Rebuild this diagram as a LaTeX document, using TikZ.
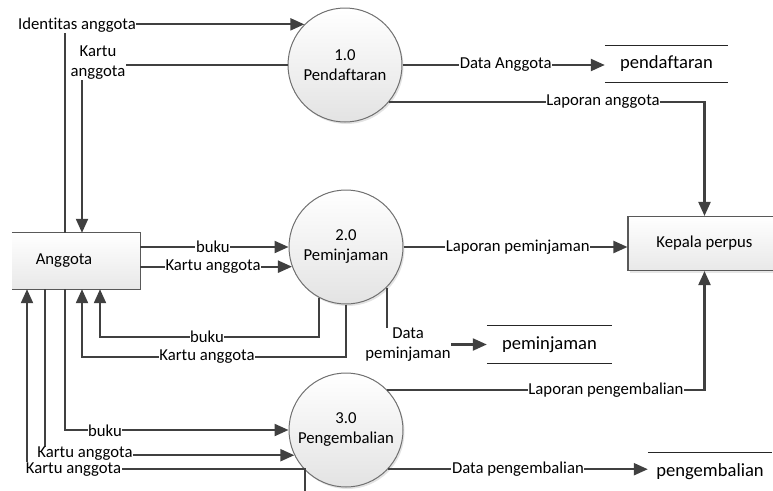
\documentclass[tikz,border=0pt]{standalone}
\usepackage{fontspec}
\setmainfont{Carlito}[Ligatures=NoCommon]
\usetikzlibrary{arrows.meta,shadows}

\definecolor{flowc}{HTML}{404040}
\definecolor{circedge}{HTML}{707070}
\definecolor{boxedge}{HTML}{595959}

\newcommand{\txtfont}{\fontsize{16.7}{20}\selectfont}
\newcommand{\storefont}{\fontsize{18.6}{21}\selectfont}

\tikzset{
  flow/.style={draw=flowc, line width=2.2pt},
  arr/.style={flow, -{Triangle[length=14pt,width=12pt]}},
  lbl/.style={fill=white, inner sep=0.6pt, font=\txtfont, text=black, align=center},
  proc/.style={circle, minimum size=114pt, inner sep=0pt, draw=circedge,
    line width=1pt, top color=white, bottom color=black!11, align=center,
    font=\txtfont, drop shadow={opacity=0.22, shadow xshift=1.5pt, shadow yshift=-2pt}},
  ent/.style={rectangle, inner sep=0pt, top color=white, bottom color=black!9,
    font=\txtfont},
  entedge/.style={draw=boxedge, line width=1.1pt},
  store/.style={rectangle, inner sep=0pt, font=\storefont},
  storeline/.style={draw=black!85, line width=1.2pt},
}

\begin{document}
\begin{tikzpicture}[x=1pt, y=-1pt]
\useasboundingbox (0,0) rectangle (773,490);

% processes
\node[proc] (p1) at (345,65) {1.0\\Pendaftaran};
\node[proc] (p2) at (346,247) {2.0\\Peminjaman};
\node[proc] (p3) at (346,430) {3.0\\Pengembalian};

% external entities
\node[ent, minimum width=128pt, minimum height=56pt,
  label={[font=\txtfont, xshift=-12pt]center:Anggota}] (anggota) at (76,261) {};
\draw[entedge] (anggota.north west) -| (anggota.south east) -- (anggota.south west);

\node[ent, entedge, minimum width=153pt, minimum height=54pt,
  drop shadow={opacity=0.2, shadow xshift=1.5pt, shadow yshift=-2pt}] (kepala) at (704.5,243.5) {Kepala perpus};

% data stores
\node[store, minimum width=123pt, minimum height=36pt] (s1) at (666.5,64) {pendaftaran};
\node[store, minimum width=125pt, minimum height=37pt] (s2) at (549.5,344.5) {peminjaman};
\node[store, minimum width=124pt, minimum height=38pt] (s3) at (710,472) {pengembalian};
\foreach \s in {s1,s2,s3}
  \draw[storeline] (\s.north west) -- (\s.north east) (\s.south west) -- (\s.south east);

% flows of 1.0
\draw[arr] (65,0 |- anggota.north) |- (p1.135);
\draw[arr] (p1.west) -| (82,0 |- anggota.north);
\draw[arr] (p1.east) -- (p1.east -| s1.west) node[lbl, pos=0.51] (l3) {Data Anggota};
\draw[arr] (p1.-40.7) -| (kepala.north);

% flows of 2.0
\draw[arr] (p2.west -| anggota.east) -- (p2.west) node[lbl, pos=0.49] (l5) {buku};
\draw[arr] (p2.200.5 -| anggota.east) -- (p2.200.5) node[lbl, pos=0.48] (l6) {Kartu anggota};
\draw[arr] (p2.242.9) |- (100,337) -- (100,0 |- anggota.south);
\draw[arr] (p2.south) |- (82,357) -- (82,0 |- anggota.south);
\draw[arr] (p2.east) -- (p2.east -| kepala.west) node[lbl, pos=0.51] (l9) {Laporan peminjaman};
\draw[arr] (p2.-45.4) |- (s2.west);

% flows of 3.0
\coordinate (cut) at (305,492);
\draw[arr] (65,0 |- anggota.south) |- (p3.west);
\draw[arr] (45,0 |- anggota.south) |- (p3.206);
\draw[arr] (cut) |- (27,469) -- (27,0 |- anggota.south);
\draw[arr] (p3.44.6) -| (kepala.south);
\draw[arr] (p3.-43.2) -- (p3.-43.2 -| s3.west) node[lbl, pos=0.5] (l13) {Data pengembalian};

% labels sitting on bends
\node[lbl] (l1) at (77,25) {Identitas anggota};
\node[lbl] (l2) at (98,63) {Kartu\\anggota};
\node[lbl] (l4) at (603,102) {Laporan anggota};
\node[lbl] (l7) at (207,337) {buku};
\node[lbl] (l8) at (207,357) {Kartu anggota};
\node[lbl] (l10) at (408,345) {Data\\peminjaman};
\node[lbl] (l11) at (606,390) {Laporan pengembalian};
\node[lbl] (l12) at (105,431) {buku};
\node[lbl] (l14) at (85,454) {Kartu anggota};
\node[lbl] (l15) at (73.5,469.5) {Kartu anggota};
\end{tikzpicture}
\end{document}
